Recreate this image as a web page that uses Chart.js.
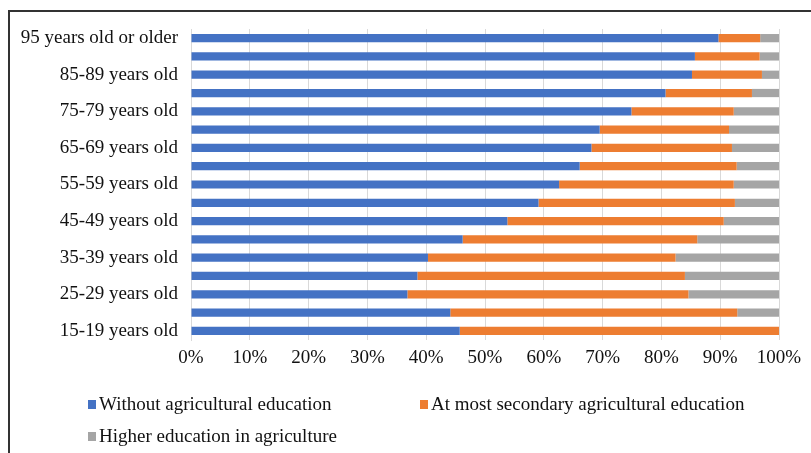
<!DOCTYPE html>
<html>
<head>
<meta charset="utf-8">
<script src="https://cdn.jsdelivr.net/npm/chart.js@4/dist/chart.umd.min.js"></script>
<style>
html,body{margin:0;padding:0;background:#fff;}
#wrap{width:811px;height:453px;position:relative;}
</style>
</head>
<body>
<div id="wrap"><canvas id="c" width="811" height="453"></canvas></div>
<script>
const categories = ["15-19 years old","20-24 years old","25-29 years old","30-34 years old","35-39 years old","40-44 years old","45-49 years old","50-54 years old","55-59 years old","60-64 years old","65-69 years old","70-74 years old","75-79 years old","80-84 years old","85-89 years old","90-94 years old","95 years old or older"];
const withoutAgri = [45.7,44.1,36.8,38.5,40.3,46.2,53.8,59.1,62.6,66.1,68.1,69.5,74.9,80.7,85.2,85.7,89.7];
const secondaryAgri = [54.3,48.8,47.8,45.5,42.1,39.9,36.8,33.4,29.7,26.7,23.9,22.0,17.4,14.7,11.9,11.0,7.1];
const higherAgri = [0.0,7.1,15.4,16.0,17.6,13.9,9.4,7.5,7.7,7.2,8.0,8.5,7.7,4.6,2.9,3.3,3.2];
const seriesNames = ["Without agricultural education","At most secondary agricultural education","Higher education in agriculture"];
const colors = ["#4472C4","#ED7D31","#A5A5A5"];
const xTicks = [0,10,20,30,40,50,60,70,80,90,100];

const FONT = "'Liberation Serif','Times New Roman',serif";

const framePlugin = {
  id:'frame',
  beforeDraw(chart){
    const ctx = chart.ctx;
    ctx.save();
    ctx.fillStyle='#fff';
    ctx.fillRect(0,0,chart.width,chart.height);
    ctx.strokeStyle='#333';
    ctx.lineWidth=2;
    ctx.beginPath();
    ctx.moveTo(9,453);
    ctx.lineTo(9,11);
    ctx.lineTo(811,11);
    ctx.stroke();
    ctx.restore();
  }
};

const legendPlugin = {
  id:'customLegend',
  afterDraw(chart){
    const ctx = chart.ctx;
    ctx.save();
    ctx.font = "19px " + FONT;
    ctx.textBaseline='middle';
    ctx.textAlign='left';
    const pos = [[88,405],[420,405],[88,437]];
    chart.data.datasets.forEach((ds,i)=>{
      const [x,y]=pos[i];
      ctx.fillStyle=ds.backgroundColor;
      ctx.fillRect(x,y-5,8,9);
      ctx.fillStyle='#111';
      ctx.fillText(ds.label,x+11,y);
    });
    ctx.restore();
  }
};

new Chart(document.getElementById('c'),{
  type:'bar',
  data:{
    labels:categories,
    datasets:[
      {label:seriesNames[0],data:withoutAgri,backgroundColor:colors[0]},
      {label:seriesNames[1],data:secondaryAgri,backgroundColor:colors[1]},
      {label:seriesNames[2],data:higherAgri,backgroundColor:colors[2]}
    ]
  },
  options:{
    indexAxis:'y',
    responsive:false,
    animation:false,
    devicePixelRatio:1,
    layout:{padding:{left:20,right:32,top:29,bottom:0}},
    datasets:{bar:{barPercentage:0.9,categoryPercentage:0.5,borderWidth:0}},
    plugins:{legend:{display:false},tooltip:{enabled:false}},
    scales:{
      x:{
        stacked:true,min:0,max:100,
        afterBuildTicks(s){s.ticks=xTicks.map(v=>({value:v}));},
        afterFit(s){s.height=113;},
        ticks:{callback:v=>v+'%',color:'#111',font:{family:FONT,size:19},padding:7,maxRotation:0},
        grid:{color:'#d9d9d9',drawTicks:false,lineWidth:1},
        border:{display:false}
      },
      y:{
        stacked:true,reverse:true,
        afterFit(s){s.width=171;},
        ticks:{autoSkip:false,color:'#111',font:{family:FONT,size:19},padding:13,
          callback:function(v,i){return i%2===0?this.getLabelForValue(v):'';}},
        grid:{display:false,drawTicks:false},
        border:{display:true,color:'#d9d9d9'}
      }
    }
  },
  plugins:[framePlugin,legendPlugin]
});
</script>
</body>
</html>
